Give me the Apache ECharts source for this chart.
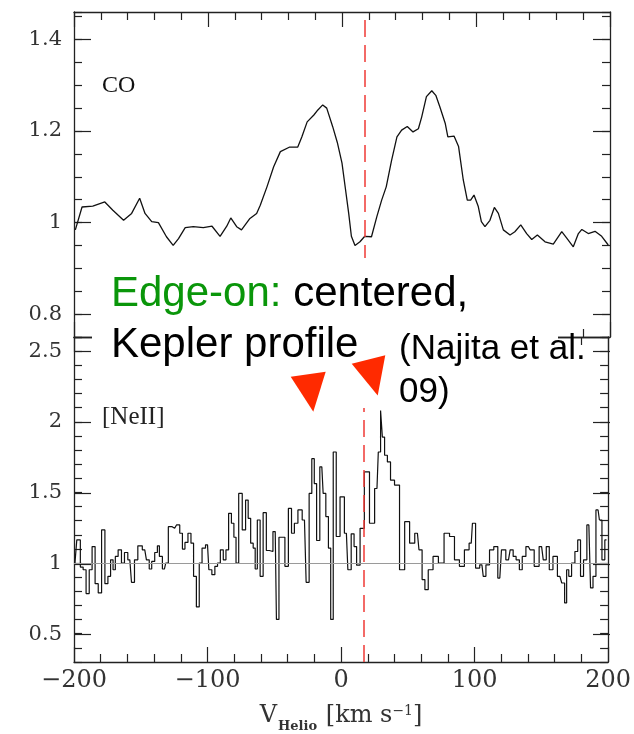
<!DOCTYPE html>
<html>
<head>
<meta charset="utf-8">
<script src="https://cdn.jsdelivr.net/npm/echarts@6/dist/echarts.min.js"></script>
<style>
  html, body { margin: 0; padding: 0; background: #fff; }
  #chart { width: 634px; height: 734px; }
</style>
</head>
<body>
<div id="chart"></div>
<script>
// CO line profile (normalised flux vs heliocentric velocity, km/s)
const coVelocity = [-199, -194, -186, -177, -171, -163, -157, -151, -147, -142, -137, -131, -126, -122, -117, -111,
  -103.5, -97, -91, -86, -83, -78.6, -75, -68.7, -63.7, -61, -56, -51, -46, -39, -33, -30, -26, -21, -18, -14.4,
  -11.4, -7, -3.5, 0, 2.5, 5, 7, 9.7, 13.4, 17, 22, 26, 29.6, 33, 37, 41, 44.5, 48.7, 53, 57, 59.5, 63, 67, 70, 73,
  77, 79, 83.6, 87, 90.5, 93.5, 96, 98.5, 101.7, 104, 106.7, 110.4, 113.7, 116.7, 120.4, 125.4, 129, 133.4, 137.8,
  141.6, 145.8, 151.5, 157.7, 164, 168, 172.6, 176.4, 179, 183.8, 188.8, 193.8, 198.7];
const coFlux = [0.984, 1.034, 1.036, 1.045, 1.027, 1.005, 1.02, 1.053, 1.02, 1.002, 1.0, 0.969, 0.95, 0.965, 0.989, 0.991,
  0.989, 0.992, 0.97, 0.992, 1.01, 0.991, 0.984, 1.009, 1.02, 1.038, 1.078, 1.122, 1.155, 1.165, 1.165, 1.187, 1.22, 1.235, 1.246, 1.257,
  1.25, 1.21, 1.175, 1.13, 1.075, 1.02, 0.97, 0.95, 0.958, 0.97, 0.969, 1.013, 1.049, 1.078, 1.136, 1.187, 1.202, 1.21, 1.198, 1.205, 1.231, 1.275, 1.288, 1.278, 1.253,
  1.217, 1.187, 1.189, 1.166, 1.093, 1.049, 1.049, 1.06, 1.035, 1.002, 0.991, 1.005, 1.033, 1.02, 0.984, 0.973, 0.98, 0.995, 0.976,
  0.963, 0.973, 0.958, 0.953, 0.98, 0.965, 0.947, 0.976, 0.985, 0.976, 0.981, 0.97, 0.951];

// [NeII] 12.8 micron line profile
const neVelocity = [-199.3, -196.5, -194, -192.3, -189.6, -187.6, -185.3, -183.1, -180.6, -178.1, -175.6, -173.6, -171.6, -169.9,
  -168.2, -165.7, -163.2, -161.2, -158.2, -155.7, -153.7, -150.7, -147, -144.5, -142.8, -140.8, -138.3, -136.8, -135.3, -132.3,
  -130.3, -128.4, -124.6, -121.9, -119.7, -117.9, -115.9, -113.4, -111.4, -109.5, -107.2, -105.2, -103, -100, -98, -95.5, -93.5,
  -91.5, -89.3, -87.1, -85.3, -83.1, -81.1, -79.4, -77.9, -75.4, -72.6, -70.4, -68.7, -66.7, -64.9, -63.7, -61.7, -59.5, -57.2,
  -54.7, -52.7, -49.3, -47.5, -45.5, -43.3, -40.8, -38.1, -36.1, -33.8, -30.8, -27.4, -24.9, -22.9, -20.9, -19.2, -17.4, -14.4,
  -12.4, -10.4, -8.5, -7, -4.7, -2.5, 1, 4, 6.2, 9, 10.5, 12.8, 15.7, 19.2, 23.4, 26.9, 28.9, 30.3, 31.6, 33.6, 35.8, 38.3, 41.8,
  45.8, 49.5, 53.2, 57.2, 59.5, 61.9, 63.7, 66.9, 70.9, 74.9, 79.4, 83.1, 86.8, 90.5, 94.3, 97.5, 99.3, 102.2, 105.5, 107.5, 109.5,
  112.9, 115.9, 118.9, 121.4, 125.4, 127.9, 129.9, 132.3, 134.8, 136.6, 140.3, 142.8, 146.5, 150.2, 152.7, 154.7, 157.2, 160.2,
  163.9, 166.7, 168.2, 169.7, 171.4, 173.9, 176.4, 178.1, 180.6, 182.6, 185.6, 188.1, 189.3, 192.5, 194.5, 196.3, 198.8];
const neFlux = [1.0, 1.164, 0.972, 0.953, 0.784, 0.953, 1.117, 0.854, 0.789, 1.235, 0.854, 0.906, 1.023, 0.953,
  1.047, 1.094, 1.0, 1.075, 1.023, 0.864, 1.023, 1.122, 1.094, 1.023, 0.958, 1.012, 1.075, 1.122, 1.047, 0.958,
  1.0, 1.258, 1.246, 1.27, 1.211, 1.099, 1.146, 1.211, 1.141, 0.906, 0.69, 1.0, 1.106, 1.129, 0.953, 0.918, 0.977,
  1.0, 1.094, 1.023, 1.094, 1.352, 1.282, 1.183, 1.0, 1.493, 1.235, 1.446, 1.317, 1.141, 1.106, 0.958, 1.305, 0.906, 1.357,
  1.089, 1.082, 1.223, 0.601, 1.183, 1.183, 0.977, 1.387, 1.211, 1.282, 1.376, 1.305, 0.864, 1.493, 1.739, 1.563, 1.16, 1.681,
  1.493, 1.329, 1.106, 0.601, 1.786, 1.188, 1.469, 1.211, 0.953, 1.207, 1.117, 0.985, 1.246, 1.646, 1.282, 1.528, 1.786, 2.08, 1.892, 1.763, 1.716, 1.587, 1.552,
  0.953, 1.293, 1.141, 1.211, 1.094, 0.883, 0.812, 0.953, 1.047, 1.0, 1.211, 1.188, 1.023, 0.977, 1.094, 1.141, 1.282, 0.965, 0.988, 0.906, 0.988,
  1.094, 1.117, 0.894, 1.094, 1.023, 1.094, 1.047, 1.023, 0.953, 1.047, 1.117, 1.094, 0.977, 1.117, 1.023, 1.117, 0.953, 1.047,
  0.906, 0.859, 0.718, 0.953, 0.906, 1.0, 1.082, 1.164, 0.906, 1.023, 1.27, 0.824, 0.906, 1.376, 1.305, 1.023, 1.164];

// Axis ranges and tick steps
const velocityRange = [-200, 200];
const velocityStep = 100;       // labelled ticks
const velocityMinorSplit = 5;   // minor ticks every 20 km/s
const coRange = [0.75, 1.46];
const coLabelRange = [0.8, 1.4];
const coLabelStep = 0.2;
const coMinorStep = 0.05;
const neRange = [0.3, 2.6];
const neLabelRange = [0.5, 2.5];
const neLabelStep = 0.5;
const neMinorStep = 0.1;
const systemicVelocity = 17;
const continuumLevel = 1;

const AXIS_COLOR = '#222';
const SERIF = '"DejaVu Serif", serif';

// panel boxes (pixels)
const PANEL_LEFT = 74, PANEL_RIGHT = 24;
const panels = [
  { top: 12, height: 325, range: coRange, labelRange: coLabelRange, labelStep: coLabelStep, minorStep: coMinorStep },
  { top: 337, height: 326, range: neRange, labelRange: neLabelRange, labelStep: neLabelStep, minorStep: neMinorStep }
];

function fmtNum(v) {
  return v < 0 ? '\u2212' + Math.abs(v) : String(+v.toFixed(4));
}

const grids = [];
const xAxes = [];
const yAxes = [];

function velocityAxis(gridIndex, position, withLabels) {
  return {
    type: 'value', gridIndex: gridIndex, position: position,
    min: velocityRange[0], max: velocityRange[1], interval: velocityStep,
    axisLine: { show: true, onZero: false, lineStyle: { color: AXIS_COLOR, width: 1.3 } },
    axisTick: { show: true, inside: true, length: 15, lineStyle: { color: AXIS_COLOR, width: 1.2 } },
    minorTick: { show: true, splitNumber: velocityMinorSplit, length: 8, lineStyle: { color: AXIS_COLOR, width: 1.2 } },
    axisLabel: withLabels
      ? { show: true, formatter: fmtNum, fontFamily: SERIF, fontSize: 24, color: '#333', margin: 7 }
      : { show: false },
    splitLine: { show: false }, minorSplitLine: { show: false }
  };
}

function fluxAxis(gridIndex, position, min, max, step, tickLen, line, labels) {
  return {
    type: 'value', gridIndex: gridIndex, position: position,
    min: min, max: max, interval: step,
    axisLine: { show: line, onZero: false, lineStyle: { color: AXIS_COLOR, width: 1.3 } },
    axisTick: { show: true, inside: true, length: tickLen, lineStyle: { color: AXIS_COLOR, width: 1.2 } },
    axisLabel: labels
      ? { show: true, formatter: fmtNum, fontFamily: SERIF, fontSize: 21, color: '#333', margin: 12,
          showMinLabel: true, showMaxLabel: true }
      : { show: false },
    splitLine: { show: false }
  };
}

// data panels: frame, velocity ticks, minor flux ticks
panels.forEach(function (p, g) {
  grids.push({ left: PANEL_LEFT, right: PANEL_RIGHT, top: p.top, height: p.height });
  xAxes.push(velocityAxis(g, 'bottom', g === 1));
  xAxes.push(velocityAxis(g, 'top', false));
  yAxes.push(fluxAxis(g, 'left', p.range[0], p.range[1], p.minorStep, 8, true, false));
  yAxes.push(fluxAxis(g, 'right', p.range[0], p.range[1], p.minorStep, 8, true, false));
});
// labelled flux ticks: same scale, spanning only the labelled values
panels.forEach(function (p, g) {
  const scale = p.height / (p.range[1] - p.range[0]);
  const top = p.top + (p.range[1] - p.labelRange[1]) * scale;
  const height = (p.labelRange[1] - p.labelRange[0]) * scale;
  const gi = grids.length;
  grids.push({ left: PANEL_LEFT, right: PANEL_RIGHT, top: top, height: height });
  xAxes.push({ type: 'value', gridIndex: gi, show: false, min: velocityRange[0], max: velocityRange[1] });
  yAxes.push(fluxAxis(gi, 'left', p.labelRange[0], p.labelRange[1], p.labelStep, 17, false, true));
  yAxes.push(fluxAxis(gi, 'right', p.labelRange[0], p.labelRange[1], p.labelStep, 17, false, false));
});

// velocity axis title with subscript and superscript
xAxes[2].name = '{v|V}{s|Helio} {u|[km s}{p|\u22121}{u|]}';
xAxes[2].nameLocation = 'middle';
xAxes[2].nameGap = 42;
xAxes[2].nameTextStyle = {
  fontFamily: SERIF, fontSize: 24, color: '#333',
  rich: {
    v: { fontFamily: SERIF, fontSize: 24, color: '#333', lineHeight: 26, verticalAlign: 'top' },
    u: { fontFamily: SERIF, fontSize: 24, color: '#333', lineHeight: 26, verticalAlign: 'top' },
    s: { fontFamily: SERIF, fontSize: 13, fontWeight: 'bold', color: '#333', lineHeight: 15,
      padding: [16, 1, 0, 1], verticalAlign: 'top' },
    p: { fontFamily: SERIF, fontSize: 14, color: '#333', lineHeight: 15, verticalAlign: 'top' }
  }
};

const DASH_RED = { color: '#f03a36', width: 1.5, type: [17, 8] };

const chart = echarts.init(document.getElementById('chart'), null, { renderer: 'canvas' });
chart.setOption({
  animation: false,
  backgroundColor: '#fff',
  grid: grids,
  xAxis: xAxes,
  yAxis: yAxes,
  series: [
    {
      name: 'CO',
      type: 'line',
      xAxisIndex: 0,
      yAxisIndex: 0,
      data: coVelocity.map(function (v, i) { return [v, coFlux[i]]; }),
      showSymbol: false,
      lineStyle: { color: '#111', width: 1.3 },
      markLine: {
        silent: true, symbol: 'none', label: { show: false },
        lineStyle: DASH_RED,
        data: [{ xAxis: systemicVelocity }]
      }
    },
    {
      name: '[NeII]',
      type: 'line',
      xAxisIndex: 2,
      yAxisIndex: 2,
      step: 'middle',
      data: neVelocity.map(function (v, i) { return [v, neFlux[i]]; }),
      showSymbol: false,
      lineStyle: { color: '#111', width: 1.2 },
      markLine: {
        silent: true, symbol: 'none', label: { show: false },
        data: [
          { xAxis: systemicVelocity, lineStyle: DASH_RED },
          { yAxis: continuumLevel, lineStyle: { color: '#9a9a9a', width: 1.2, type: 'solid' } }
        ]
      }
    }
  ],
  graphic: [
    { type: 'rect', z: 100, shape: { x: 92, y: 258, width: 466, height: 150 }, style: { fill: '#fff' } },
    { type: 'text', z: 101, x: 102, y: 86,
      style: { text: 'CO', font: '24px "Liberation Serif"', fill: '#111', verticalAlign: 'middle' } },
    { type: 'text', z: 101, x: 102, y: 417,
      style: { text: '[NeII]', font: '25px "Liberation Serif"', fill: '#222', verticalAlign: 'middle' } },
    { type: 'text', z: 101, x: 111, y: 294,
      style: { text: '{g|Edge-on:} centered,', font: '42px "Liberation Sans"', fill: '#000', verticalAlign: 'middle',
        rich: { g: { fill: '#0a960a', fontSize: 42, fontFamily: '"Liberation Sans"' } } } },
    { type: 'text', z: 101, x: 111, y: 345,
      style: { text: 'Kepler profile', font: '42px "Liberation Sans"', fill: '#000', verticalAlign: 'middle' } },
    { type: 'text', z: 101, x: 399, y: 349,
      style: { text: '(Najita et al.', font: '35px "Liberation Sans"', fill: '#000', verticalAlign: 'middle' } },
    { type: 'text', z: 101, x: 399, y: 392,
      style: { text: '09)', font: '35px "Liberation Sans"', fill: '#000', verticalAlign: 'middle' } },
    { type: 'polygon', z: 102, shape: { points: [[290.7, 376.7], [325.7, 371.7], [313.3, 411.7]] },
      style: { fill: '#ff2a00' } },
    { type: 'polygon', z: 102, shape: { points: [[351.7, 363.8], [385.3, 355.3], [377.7, 395.5]] },
      style: { fill: '#ff2a00' } }
  ]
});
</script>
</body>
</html>
